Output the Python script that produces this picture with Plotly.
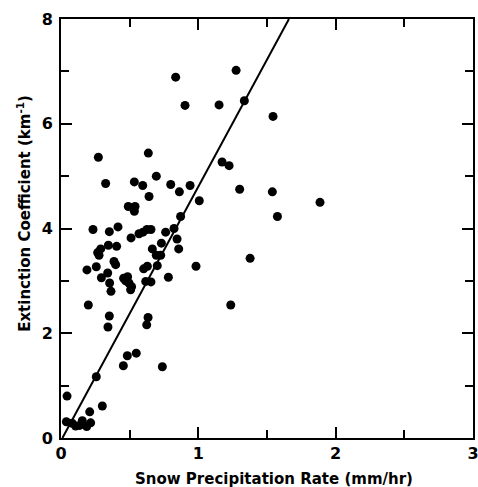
import plotly.graph_objects as go

snow_rate = [0.835, 1.275, 0.903, 1.151, 1.335, 1.544, 0.272, 0.636, 1.173, 1.224,
             0.694, 0.325, 0.534, 0.595, 0.799, 0.940, 0.862, 0.641, 1.007, 1.301,
             1.539, 1.886, 1.576, 0.490, 0.539, 0.534, 0.871, 0.233, 0.352, 0.415,
             0.568, 0.597, 0.626, 0.655, 0.762, 0.823, 0.510, 0.845, 0.731, 0.345,
             0.405, 0.289, 0.665, 0.857, 0.267, 0.277, 0.694, 0.726, 0.386, 0.398,
             0.257, 0.189, 0.629, 0.602, 0.701, 0.983, 1.377, 0.340, 0.294, 0.456,
             0.485, 0.471, 0.495, 0.514, 0.507, 0.617, 0.655, 0.782, 0.354, 0.364,
             0.199, 1.236, 0.352, 0.342, 0.634, 0.624, 0.483, 0.454, 0.548, 0.738,
             0.257, 0.044, 0.301, 0.209, 0.039, 0.082, 0.107, 0.155, 0.187, 0.216,
             0.136]
extinction = [6.89, 7.02, 6.35, 6.36, 6.44, 6.14, 5.36, 5.44, 5.27, 5.20,
              5.00, 4.86, 4.89, 4.82, 4.84, 4.82, 4.70, 4.61, 4.53, 4.75,
              4.70, 4.50, 4.23, 4.42, 4.42, 4.33, 4.23, 3.98, 3.94, 4.03,
              3.90, 3.93, 3.98, 3.98, 3.93, 4.00, 3.82, 3.80, 3.72, 3.68,
              3.66, 3.61, 3.61, 3.61, 3.54, 3.49, 3.49, 3.49, 3.37, 3.31,
              3.27, 3.21, 3.28, 3.23, 3.29, 3.28, 3.43, 3.15, 3.06, 3.05,
              3.08, 3.00, 2.96, 2.89, 2.83, 2.99, 2.98, 3.07, 2.96, 2.80,
              2.54, 2.54, 2.33, 2.12, 2.30, 2.16, 1.57, 1.38, 1.62, 1.36,
              1.17, 0.80, 0.61, 0.50, 0.31, 0.28, 0.23, 0.33, 0.22, 0.29,
              0.24]

fit_slope = 4.85
fit_intercept = -0.05
fit_y = [0.0, 8.0]
fit_x = [(v - fit_intercept) / fit_slope for v in fit_y]

x_ticks = [0, 1, 2, 3]
y_ticks = [0, 2, 4, 6, 8]

x_title = "Snow Precipitation Rate (mm/hr)"
y_title = "Extinction Coefficient (km<sup>-1</sup>)"

font_family = "DejaVu Sans"

fig = go.Figure()
fig.add_trace(go.Scatter(x=fit_x, y=fit_y, mode="lines",
                         line=dict(color="black", width=2), showlegend=False))
fig.add_trace(go.Scatter(x=snow_rate, y=extinction, mode="markers",
                         marker=dict(color="black", size=9), showlegend=False))

axis_common = dict(showgrid=False, zeroline=False, showline=True, linecolor="black",
                   linewidth=2, ticks="inside", ticklen=11, tickwidth=2, tickcolor="black",
                   mirror="allticks", automargin=False, ticklabeloverflow="allow",
                   tickfont=dict(family=font_family, size=16, color="black", weight="bold"))

fig.update_xaxes(range=[0, 3], tickvals=x_ticks, ticktext=[str(t) for t in x_ticks],
                 minor=dict(dtick=0.5, ticks="inside", ticklen=8, tickwidth=2, tickcolor="black"),
                 ticklabelstandoff=0,
                 **axis_common)
fig.update_yaxes(range=[0, 8], tickvals=y_ticks, ticktext=[str(t) for t in y_ticks],
                 minor=dict(dtick=1, ticks="inside", ticklen=8, tickwidth=2, tickcolor="black"),
                 ticklabelstandoff=3,
                 **axis_common)

title_font = dict(family=font_family, size=15, color="black", weight="bold")
fig.add_annotation(text=x_title, xref="paper", yref="paper", x=0.518, y=0,
                   xanchor="center", yanchor="middle", yshift=-41, showarrow=False,
                   font=title_font)
fig.add_annotation(text=y_title, xref="paper", yref="paper", x=0, y=0.535,
                   xanchor="center", yanchor="middle", xshift=-37, textangle=-90,
                   showarrow=False, font=title_font)

fig.update_layout(width=478, height=487, margin=dict(l=61, r=5, t=19, b=49),
                  plot_bgcolor="white", paper_bgcolor="white")

fig.write_html("out.html", config={"displayModeBar": False},
               post_script="document.body.style.margin='0';document.body.style.overflow='hidden';")
